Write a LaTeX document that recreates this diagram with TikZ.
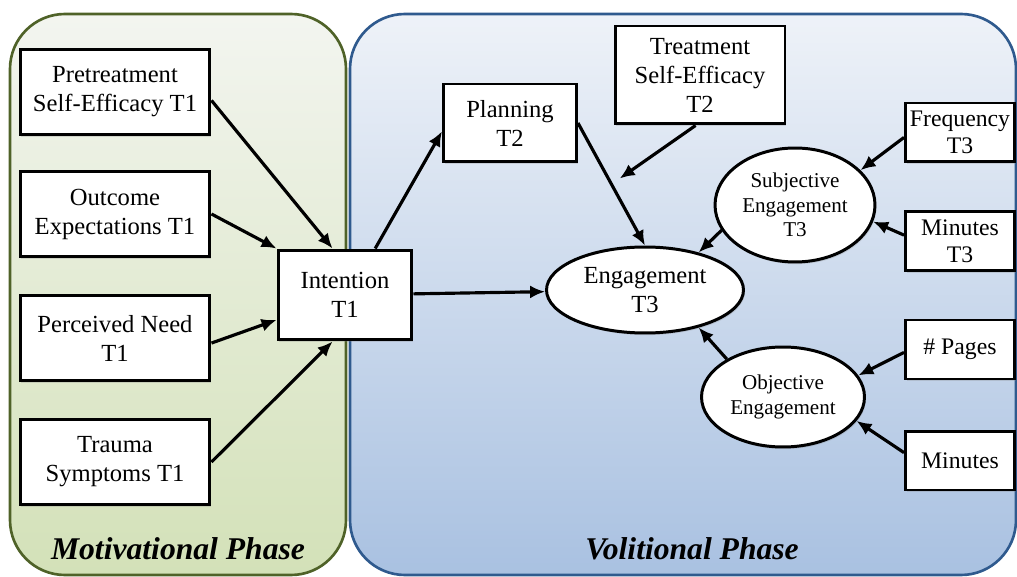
\documentclass[tikz,border=0pt]{standalone}
\usepackage{fontspec}
\setmainfont{Liberation Serif}
\usetikzlibrary{arrows.meta,shapes.geometric,shadows}
\definecolor{motivline}{HTML}{4F6228}
\definecolor{motivtop}{HTML}{F3F5F0}
\definecolor{motivbot}{HTML}{D3E1B8}
\definecolor{volline}{HTML}{2F5A8E}
\definecolor{voltop}{HTML}{EEF2F8}
\definecolor{volbot}{HTML}{A9C1E1}
\tikzset{
  varbox/.style    = {draw, line width=1.7pt, rectangle, fill=white, align=center,
                      inner sep=0pt, font=\fontsize{14}{16.5}\selectfont,
                      drop shadow={shadow xshift=0.8pt,shadow yshift=-1.2pt,opacity=0.25}},
  leftbox/.style   = {varbox, minimum width=3.8cm, minimum height=1.7cm},
  rightbox/.style  = {varbox, minimum width=2.18cm, minimum height=1.18cm,
                      font=\fontsize{13.5}{15.5}\selectfont},
  latent/.style    = {draw, line width=1.7pt, ellipse, fill=white, align=center,
                      inner sep=0pt, font=\fontsize{12}{14}\selectfont,
                      drop shadow={shadow xshift=0.8pt,shadow yshift=-1.2pt,opacity=0.25}},
  eff/.style       = {-{Latex[length=3mm,width=2.6mm]}, line width=1.8pt},
  phasebox/.style  = {line width=1.5pt, rounded corners=1.1cm},
  phaselabel/.style= {font=\fontsize{18}{20}\selectfont\bfseries\itshape},
}

\begin{document}
\begin{tikzpicture}[x=0.02cm,y=-0.02cm]
\useasboundingbox (0,0) rectangle (1017,577);
% ---------- phases ----------
\draw[phasebox, draw=motivline, top color=motivtop, bottom color=motivbot] (10,14) rectangle (346,575);
\draw[phasebox, draw=volline, top color=voltop, bottom color=volbot] (350,14) rectangle (1016,575);
\node[phaselabel] (motiv) at (178,549) {Motivational Phase};
\node[phaselabel] (volit) at (692,549) {Volitional Phase};
% ---------- motivational ----------
\node[leftbox] (pre) at (115,92) {Pretreatment\\Self-Efficacy T1};
\node[leftbox] (out) at (115,214) {Outcome\\Expectations T1};
\node[leftbox] (need) at (115,338) {Perceived Need\\T1};
\node[leftbox] (trauma) at (115,462) {Trauma\\Symptoms T1};
\node[varbox, minimum width=2.68cm, minimum height=1.8cm] (int) at (345,295) {Intention\\T1};
\draw[eff] (pre.-5) -- (int.105);
\draw[eff] (out.east) -- (int.north west);
\draw[eff] (need.-3) -- (int.200);
\draw[eff] (trauma.east) -- (int.255);
% ---------- volitional ----------
\node[varbox, minimum width=2.66cm, minimum height=1.56cm] (plan) at (510,123) {Planning\\T2};
\node[varbox, minimum width=3.4cm, minimum height=1.96cm] (tse) at (700,75) {Treatment\\Self-Efficacy\\T2};
\node[latent, minimum width=3.94cm, minimum height=1.72cm,
      font=\fontsize{14}{16.5}\selectfont] (eng) at (645,290) {Engagement\\T3};
\node[latent, minimum width=3.2cm, minimum height=2.28cm] (subj) at (795,205) {Subjective\\Engagement\\T3};
\node[latent, minimum width=3.26cm, minimum height=2cm] (obj) at (783,397) {Objective\\Engagement};
\node[rightbox] (freq) at (960,132.5) {Frequency\\T3};
\node[rightbox] (minthree) at (960,241) {Minutes\\T3};
\node[rightbox] (pages) at (960,349.5) {\# Pages};
\node[rightbox] (mins) at (960,460.5) {Minutes};
\draw[eff] (int.57) -- (plan.187);
\draw[eff] (int) -- (eng);
\draw[eff] (plan.east) -- (eng.north) coordinate[pos=0.5] (mod);
\draw[eff, shorten >=0.2cm] (tse.265) -- (mod);
\draw[eff] (subj.199) -- (eng.35);
\draw[eff] (obj.146) -- (eng.-35);
\draw[eff] (freq.185) -- (subj.28);
\draw[eff] (minthree.174) -- (subj.-12);
\draw[eff] (pages.183) -- (obj.16);
\draw[eff] (mins.172) -- (obj.-18);
\end{tikzpicture}
\end{document}
